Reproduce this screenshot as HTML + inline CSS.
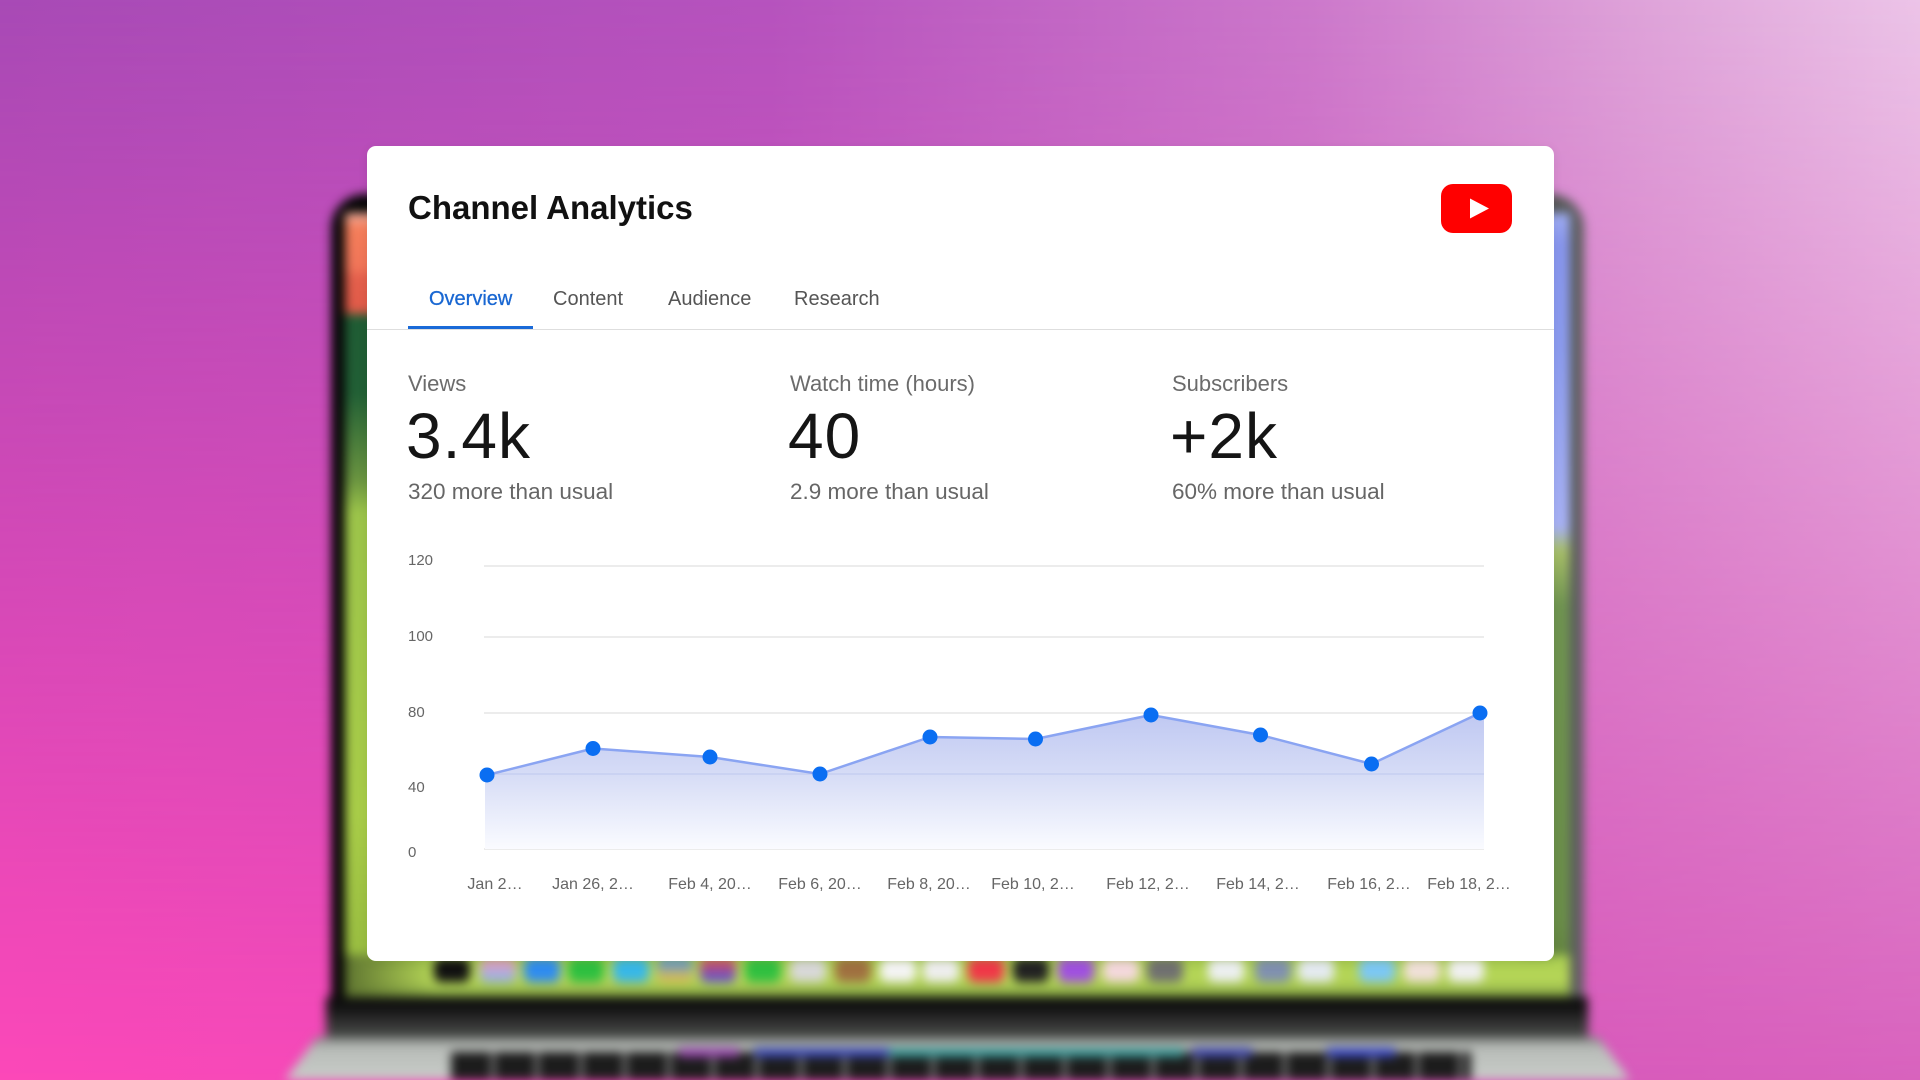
<!DOCTYPE html>
<html><head><meta charset="utf-8">
<style>
html,body{margin:0;padding:0;width:1920px;height:1080px;overflow:hidden;}
#root{position:relative;width:1920px;height:1080px;overflow:hidden;font-family:"Liberation Sans",sans-serif;}
.abs{position:absolute;}
.bg1{position:absolute;left:0;top:0;width:1920px;height:1080px;background:linear-gradient(to right,#a84ab6 0%,#b653be 40%,#cc78cb 68%,#dea2d9 85%,#ecc4e8 100%);}
.bg2{position:absolute;left:0;top:0;width:1920px;height:1080px;background:linear-gradient(to right,#fc48b8 0%,#ec4bb8 45%,#d858ba 80%,#d862bd 100%);-webkit-mask-image:linear-gradient(to bottom,rgba(0,0,0,0) 0%,#000 100%);mask-image:linear-gradient(to bottom,rgba(0,0,0,0) 0%,#000 100%);}
.laptop{position:absolute;left:0;top:0;width:1920px;height:1080px;filter:blur(5px);}
.lid{left:331px;top:194px;width:1253px;height:846px;border-radius:34px 34px 0 0;background:linear-gradient(to right,#060606 0%,#141414 50%,#3a3a3a 88%,#5e6060 100%);}
.screen{left:345px;top:213px;width:1225px;height:785px;background:linear-gradient(to bottom,#f2b4a6 0%,#f47e5a 1.8%,#f07458 7.3%,#e4604c 7.9%,#e05a48 12.7%,#1f5c34 13%,#215f35 22.9%,#6a9440 34%,#9cc44a 38.2%,#a8cc48 76.4%,#98bc40 95.3%,#6a8030 100%);}
.screenR{left:1520px;top:213px;width:50px;height:785px;background:linear-gradient(to bottom,#a0aef4 0%,#8896ee 4%,#8c9cf0 17%,#a8b2f6 40%,#a8c068 43%,#6f9450 50%,#6a8e48 90%,#5c7a38 100%);}
.dock{left:345px;top:955px;width:1225px;height:43px;background:linear-gradient(to right,#5e7430 0px,rgba(168,204,80,0) 90px),linear-gradient(to bottom,#a8cc50 0%,#b8d858 60%,#7a9a40 100%);}
.ic{position:absolute;top:958px;width:36px;height:24px;border-radius:7px;}
.chin{left:326px;top:997px;width:1262px;height:42px;background:linear-gradient(to bottom,#0a0a0a 0%,#151515 30%,#3c3e3c 75%,#444644 100%);}
.base{left:285px;top:1037px;width:1345px;height:43px;clip-path:polygon(32px 0,1313px 0,100% 100%,0 100%);background:linear-gradient(to bottom,#7a7e7a 0%,#b8bcb8 25%,#c8ccc8 100%);}
.kbd{left:451px;top:1052px;width:1020px;height:28px;background:repeating-linear-gradient(to right,#1c1c1c 0px,#1c1c1c 40px,#8a8a8a 40px,#8a8a8a 44px);}
.tb{top:1048px;height:9px;}
.card{left:367px;top:146px;width:1187px;height:815px;background:#fff;border-radius:9px;box-shadow:0 2px 10px rgba(0,0,0,0.08);}
.t{position:absolute;white-space:nowrap;line-height:1;}
</style></head>
<body><div id="root">
<div class="bg1"></div>
<div class="bg2"></div>

<div class="laptop">
  <div class="abs lid"></div>
  <div class="abs screen"></div>
  <div class="abs screenR"></div>
  <div class="abs dock"></div>
  <div class="ic" style="left:434px;background:#111;"></div>
  <div class="ic" style="left:480px;background:linear-gradient(#f29ab6,#8ab4f0);"></div>
  <div class="ic" style="left:524px;background:#2f8cf0;"></div>
  <div class="ic" style="left:568px;background:#2ec040;"></div>
  <div class="ic" style="left:613px;background:#38b8e8;"></div>
  <div class="ic" style="left:657px;background:linear-gradient(#4a90e8,#f0c040);"></div>
  <div class="ic" style="left:700px;background:linear-gradient(#e85050,#5050e0);"></div>
  <div class="ic" style="left:745px;background:#30c040;"></div>
  <div class="ic" style="left:790px;background:#d8d8d8;"></div>
  <div class="ic" style="left:835px;background:#a07040;"></div>
  <div class="ic" style="left:880px;background:#f4f4f4;"></div>
  <div class="ic" style="left:923px;background:#eeeeee;"></div>
  <div class="ic" style="left:968px;background:#f03848;"></div>
  <div class="ic" style="left:1013px;background:#222;"></div>
  <div class="ic" style="left:1058px;background:#a050e0;"></div>
  <div class="ic" style="left:1103px;background:#f4d8dc;"></div>
  <div class="ic" style="left:1147px;background:#707070;"></div>
  <div class="ic" style="left:1208px;background:#eceff0;"></div>
  <div class="ic" style="left:1255px;background:#8090b0;"></div>
  <div class="ic" style="left:1298px;background:#e4eaf0;"></div>
  <div class="ic" style="left:1359px;background:#7cc8f4;"></div>
  <div class="ic" style="left:1404px;background:#f0e0d8;"></div>
  <div class="ic" style="left:1448px;background:#f0f0f0;"></div>
  <div class="abs chin"></div>
  <div class="abs base"></div>
  <div class="abs kbd"></div>
  <div class="abs tb" style="left:679px;width:60px;background:#9a48b0;"></div>
  <div class="abs tb" style="left:754px;width:135px;background:#3c4ab8;"></div>
  <div class="abs tb" style="left:889px;width:295px;background:#3a9a98;"></div>
  <div class="abs tb" style="left:1192px;width:60px;background:#4048b0;"></div>
  <div class="abs tb" style="left:1327px;width:68px;background:#3a48c8;"></div>
</div>

<div class="abs card"></div>

<div class="t" style="left:408px;top:191px;font-size:33px;font-weight:bold;color:#111;">Channel Analytics</div>

<svg class="abs" style="left:0;top:0;" width="1920" height="1080" viewBox="0 0 1920 1080">
  <rect x="1441" y="184" width="71" height="49" rx="12" fill="#ff0000"/>
  <polygon points="1470,198.5 1470,218.5 1489,208.5" fill="#ffffff"/>
</svg>

<div class="t" style="left:429px;top:289px;font-size:20px;color:#1967d2;-webkit-text-stroke:0.3px #1967d2;">Overview</div>
<div class="t" style="left:553px;top:289px;font-size:20px;color:#555;">Content</div>
<div class="t" style="left:668px;top:289px;font-size:20px;color:#555;">Audience</div>
<div class="t" style="left:794px;top:289px;font-size:20px;color:#555;">Research</div>
<div class="abs" style="left:367px;top:329px;width:1187px;height:1px;background:#dedede;"></div>
<div class="abs" style="left:408px;top:326px;width:125px;height:3px;background:#1a6ad8;"></div>

<div class="t" style="left:408px;top:373px;font-size:22px;color:#6b6b6b;">Views</div>
<div class="t" style="left:790px;top:373px;font-size:22px;color:#6b6b6b;">Watch time (hours)</div>
<div class="t" style="left:1172px;top:373px;font-size:22px;color:#6b6b6b;">Subscribers</div>

<div class="t" style="left:406px;top:404px;font-size:64px;letter-spacing:1px;color:#151515;">3.4k</div>
<div class="t" style="left:788px;top:404px;font-size:64px;letter-spacing:1px;color:#151515;">40</div>
<div class="t" style="left:1170px;top:404px;font-size:64px;letter-spacing:1px;color:#151515;">+2k</div>

<div class="t" style="left:408px;top:481px;font-size:22.5px;color:#666;">320 more than usual</div>
<div class="t" style="left:790px;top:481px;font-size:22.5px;color:#666;">2.9 more than usual</div>
<div class="t" style="left:1172px;top:481px;font-size:22.5px;color:#666;">60% more than usual</div>

<svg class="abs" style="left:0;top:0;" width="1920" height="1080" viewBox="0 0 1920 1080" font-family="Liberation Sans, sans-serif">
  <defs>
    <linearGradient id="ag" x1="0" y1="713" x2="0" y2="849" gradientUnits="userSpaceOnUse">
      <stop offset="0" stop-color="#bfc8f2"/>
      <stop offset="0.45" stop-color="#d6dcf6"/>
      <stop offset="1" stop-color="#fafbff"/>
    </linearGradient>
  </defs>
  <g stroke="#e6e6e6" stroke-width="1.5">
    <line x1="484" y1="566" x2="1484" y2="566"/>
    <line x1="484" y1="637" x2="1484" y2="637"/>
    <line x1="484" y1="713" x2="1484" y2="713"/>
    <line x1="484" y1="849" x2="1484" y2="849"/>
  </g>
  <path d="M485,775 L487,775 L593,748.5 L710,757 L820,774 L930,737 L1035.5,739 L1151,715 L1260.5,735 L1371.5,764 L1480,713 L1484,713 L1484,849 L485,849 Z" fill="url(#ag)"/>
  <line x1="485" y1="774" x2="1484" y2="774" stroke="#c6cff0" stroke-width="1.5"/>
  <polyline points="487,775 593,748.5 710,757 820,774 930,737 1035.5,739 1151,715 1260.5,735 1371.5,764 1480,713" fill="none" stroke="#8aa4f2" stroke-width="2.5" stroke-linejoin="round"/>
  <g fill="#0a6ef2">
    <circle cx="487" cy="775" r="7.5"/>
    <circle cx="593" cy="748.5" r="7.5"/>
    <circle cx="710" cy="757" r="7.5"/>
    <circle cx="820" cy="774" r="7.5"/>
    <circle cx="930" cy="737" r="7.5"/>
    <circle cx="1035.5" cy="739" r="7.5"/>
    <circle cx="1151" cy="715" r="7.5"/>
    <circle cx="1260.5" cy="735" r="7.5"/>
    <circle cx="1371.5" cy="764" r="7.5"/>
    <circle cx="1480" cy="713" r="7.5"/>
  </g>
  <g font-size="15" fill="#666">
    <text x="408" y="565">120</text>
    <text x="408" y="641">100</text>
    <text x="408" y="717">80</text>
    <text x="408" y="792">40</text>
    <text x="408" y="857">0</text>
  </g>
  <g font-size="16" fill="#666" text-anchor="middle">
    <text x="495" y="889">Jan 2…</text>
    <text x="593" y="889">Jan 26, 2…</text>
    <text x="710" y="889">Feb 4, 20…</text>
    <text x="820" y="889">Feb 6, 20…</text>
    <text x="929" y="889">Feb 8, 20…</text>
    <text x="1033" y="889">Feb 10, 2…</text>
    <text x="1148" y="889">Feb 12, 2…</text>
    <text x="1258" y="889">Feb 14, 2…</text>
    <text x="1369" y="889">Feb 16, 2…</text>
    <text x="1469" y="889">Feb 18, 2…</text>
  </g>
</svg>
</div></body></html>
